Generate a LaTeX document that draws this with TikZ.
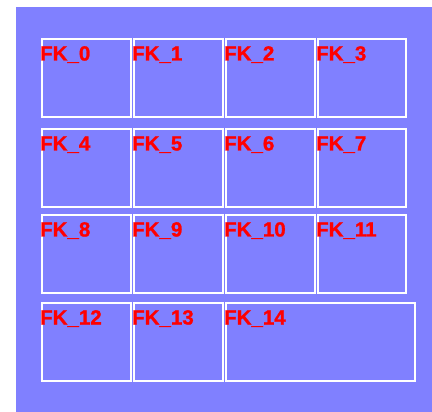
\documentclass[tikz,border=0pt]{standalone}
\usepackage{fontspec}
\setmainfont{Liberation Sans}
\newfontfamily\fkfont{Liberation Sans Bold}[FakeBold=1.2]
\definecolor{panelblue}{RGB}{128,128,255}
\tikzset{
  fkbox/.style={draw=white,line width=1.6pt},
  fklabel/.style={anchor=base west,inner sep=0pt,text=red,
    font=\fkfont\fontsize{20.5}{24}\selectfont}
}
\begin{document}
\begin{tikzpicture}[x=1pt,y=-1pt]
\useasboundingbox (0,0) rectangle (432,412);
\fill[panelblue] (16,7) rectangle (432,412);

% first row
\draw[fkbox] (42,39) rectangle (131,117);
\draw[fkbox] (134,39) rectangle (223,117);
\draw[fkbox] (226,39) rectangle (315,117);
\draw[fkbox] (318,39) rectangle (406,117);
% second row
\draw[fkbox] (42,129) rectangle (131,207);
\draw[fkbox] (134,129) rectangle (223,207);
\draw[fkbox] (226,129) rectangle (315,207);
\draw[fkbox] (318,129) rectangle (406,207);
% third row
\draw[fkbox] (42,215) rectangle (131,293);
\draw[fkbox] (134,215) rectangle (223,293);
\draw[fkbox] (226,215) rectangle (315,293);
\draw[fkbox] (318,215) rectangle (406,293);
% last row, FK_14 is wider
\draw[fkbox] (42,303) rectangle (131,381);
\draw[fkbox] (134,303) rectangle (223,381);
\draw[fkbox] (226,303) rectangle (415,381);

\node[fklabel] (fk0) at (40,60.5) {FK\_0};
\node[fklabel] (fk1) at (132,60.5) {FK\_1};
\node[fklabel] (fk2) at (224,60.5) {FK\_2};
\node[fklabel] (fk3) at (316,60.5) {FK\_3};
\node[fklabel] (fk4) at (40,150.5) {FK\_4};
\node[fklabel] (fk5) at (132,150.5) {FK\_5};
\node[fklabel] (fk6) at (224,150.5) {FK\_6};
\node[fklabel] (fk7) at (316,150.5) {FK\_7};
\node[fklabel] (fk8) at (40,236.5) {FK\_8};
\node[fklabel] (fk9) at (132,236.5) {FK\_9};
\node[fklabel] (fk10) at (224,236.5) {FK\_10};
\node[fklabel] (fk11) at (316,236.5) {FK\_11};
\node[fklabel] (fk12) at (40,324.5) {FK\_12};
\node[fklabel] (fk13) at (132,324.5) {FK\_13};
\node[fklabel] (fk14) at (224,324.5) {FK\_14};
\end{tikzpicture}
\end{document}
